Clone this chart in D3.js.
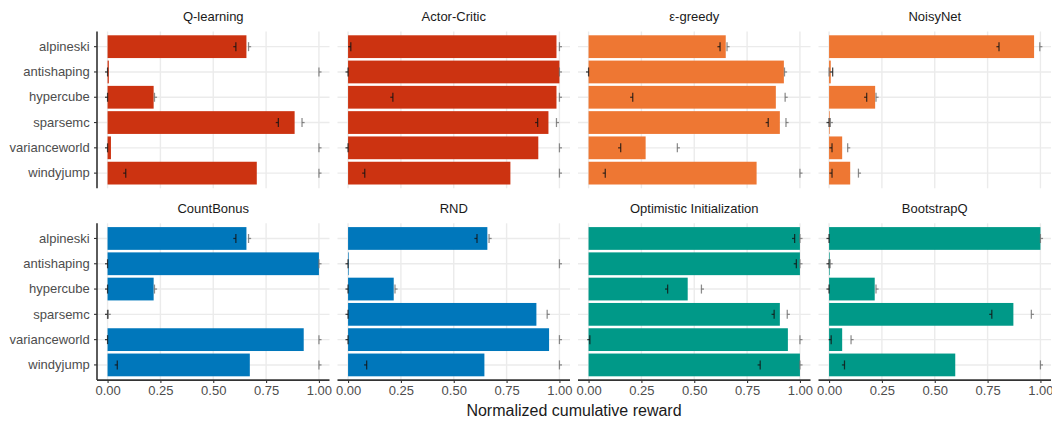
<!DOCTYPE html>
<html>
<head>
<meta charset="utf-8">
<script src="https://cdn.jsdelivr.net/npm/d3@7"></script>
<style>
  html, body { margin: 0; padding: 0; background: #ffffff; }
  svg { display: block; font-family: "Liberation Sans", Arial, Helvetica, sans-serif; }
</style>
</head>
<body>
<svg id="chart" width="1052" height="421"></svg>
<script>
// Environments (rows) and agents (facets)
const environments = ["alpineski", "antishaping", "hypercube", "sparsemc", "varianceworld", "windyjump"];
const agents = ["Q-learning", "Actor-Critic", "ε-greedy", "NoisyNet",
                "CountBonus", "RND", "Optimistic Initialization", "BootstrapQ"];
const xTicks = [0, 0.25, 0.5, 0.75, 1];

// Normalized cumulative reward per agent (bar), plus low / high markers
const qLearningReward   = [0.657, 0.006, 0.218, 0.885, 0.016, 0.706];
const qLearningLow      = [0.607, 0.000, 0.000, 0.808, 0.000, 0.086];
const qLearningHigh     = [0.667, 1.000, 0.222, 0.920, 1.000, 1.000];

const actorCriticReward = [0.986, 1.000, 0.986, 0.948, 0.900, 0.768];
const actorCriticLow    = [0.013, 0.000, 0.212, 0.897, 0.000, 0.079];
const actorCriticHigh   = [1.000, 1.000, 1.000, 0.986, 1.000, 1.000];

const epsGreedyReward   = [0.649, 0.924, 0.886, 0.905, 0.270, 0.795];
const epsGreedyLow      = [0.622, 0.000, 0.209, 0.850, 0.152, 0.079];
const epsGreedyHigh     = [0.655, 0.927, 0.930, 0.934, 0.420, 1.000];

const noisyNetReward    = [0.970, 0.008, 0.218, 0.003, 0.062, 0.100];
const noisyNetLow       = [0.804, 0.017, 0.178, 0.000, 0.014, 0.014];
const noisyNetHigh      = [0.997, 0.000, 0.222, 0.006, 0.088, 0.139];

const countBonusReward  = [0.657, 1.000, 0.218, 0.000, 0.928, 0.673];
const countBonusLow     = [0.607, 0.000, 0.000, 0.000, 0.000, 0.046];
const countBonusHigh    = [0.667, 1.000, 0.222, 0.003, 1.000, 1.000];

const rndReward         = [0.659, 0.003, 0.216, 0.891, 0.951, 0.645];
const rndLow            = [0.610, 0.000, 0.000, 0.000, 0.000, 0.088];
const rndHigh           = [0.667, 1.000, 0.222, 0.942, 1.000, 1.000];

const optimisticReward  = [1.000, 1.000, 0.469, 0.905, 0.943, 1.000];
const optimisticLow     = [0.975, 0.983, 0.374, 0.878, 0.006, 0.812];
const optimisticHigh    = [1.000, 1.000, 0.534, 0.940, 1.000, 1.000];

const bootstrapQReward  = [1.000, 0.003, 0.216, 0.872, 0.062, 0.597];
const bootstrapQLow     = [0.000, 0.000, 0.000, 0.770, 0.010, 0.073];
const bootstrapQHigh    = [1.000, 0.005, 0.222, 0.957, 0.104, 1.000];

// Table of facets built from the arrays above
const facets = [
  [qLearningReward,   qLearningLow,   qLearningHigh],
  [actorCriticReward, actorCriticLow, actorCriticHigh],
  [epsGreedyReward,   epsGreedyLow,   epsGreedyHigh],
  [noisyNetReward,    noisyNetLow,    noisyNetHigh],
  [countBonusReward,  countBonusLow,  countBonusHigh],
  [rndReward,         rndLow,         rndHigh],
  [optimisticReward,  optimisticLow,  optimisticHigh],
  [bootstrapQReward,  bootstrapQLow,  bootstrapQHigh]
].map(([reward, low, high], i) => ({
  agent: agents[i],
  rows: environments.map((env, j) => ({ env, reward: reward[j], low: low[j], high: high[j] }))
}));

// Agent family colours
const fill = d3.scaleOrdinal()
  .domain(agents)
  .range(["#CC3311", "#CC3311", "#EE7733", "#EE7733", "#0077BB", "#0077BB", "#009988", "#009988"]);

// Layout
const svg = d3.select("#chart");
const nCols = 4;
const panelLeft0 = 97, colStep = 240.5, panelW = 232.5;
const rowTops = [31.5, 223.3], panelH = 156.8;
const gridColor = "#ebebeb";
const axisColor = "#333333";
const textGrey = "#4d4d4d";
const labelSize = "13px";

facets.forEach((facet, i) => {
  const col = i % nCols, row = Math.floor(i / nCols);
  const left = panelLeft0 + col * colStep;
  const top = rowTops[row];

  const x = d3.scaleLinear().domain([-0.05, 1.05]).range([left, left + panelW]);
  const y = d3.scaleBand().domain(environments).range([top, top + panelH])
    .paddingInner(0.1).paddingOuter(0.15);

  const g = svg.append("g");

  // grid
  g.selectAll("line.vgrid").data(xTicks).join("line")
    .attr("x1", d => x(d)).attr("x2", d => x(d))
    .attr("y1", top).attr("y2", top + panelH)
    .attr("stroke", gridColor).attr("stroke-width", 1.4);
  g.selectAll("line.hgrid").data(environments).join("line")
    .attr("x1", left).attr("x2", left + panelW)
    .attr("y1", d => y(d) + y.bandwidth() / 2).attr("y2", d => y(d) + y.bandwidth() / 2)
    .attr("stroke", gridColor).attr("stroke-width", 1.4);

  // bars
  g.selectAll("rect.bar").data(facet.rows).join("rect")
    .attr("x", x(0))
    .attr("y", d => y(d.env))
    .attr("width", d => Math.max(0, x(d.reward) - x(0)))
    .attr("height", y.bandwidth())
    .attr("fill", fill(facet.agent));

  // low marker: vertical tick with a short stub to the left
  const half = 4.5, stub = 2.6;
  const low = g.selectAll("g.low").data(facet.rows).join("g")
    .attr("transform", d => `translate(${x(d.low)},${y(d.env) + y.bandwidth() / 2})`)
    .attr("stroke", "rgba(20,20,20,0.8)").attr("stroke-width", 1.25);
  low.append("line").attr("x1", 0).attr("x2", 0).attr("y1", -half).attr("y2", half);
  low.append("line").attr("x1", -stub).attr("x2", 0).attr("y1", 0).attr("y2", 0);

  // high marker: vertical tick with a short stub to the right
  const high = g.selectAll("g.high").data(facet.rows).join("g")
    .attr("transform", d => `translate(${x(d.high)},${y(d.env) + y.bandwidth() / 2})`)
    .attr("stroke", "rgba(110,110,110,0.8)").attr("stroke-width", 1.25);
  high.append("line").attr("x1", 0).attr("x2", 0).attr("y1", -half).attr("y2", half);
  high.append("line").attr("x1", 0).attr("x2", stub).attr("y1", 0).attr("y2", 0);

  // strip title
  svg.append("text")
    .attr("x", left + panelW / 2)
    .attr("y", top - 10.5)
    .attr("text-anchor", "middle")
    .attr("font-size", labelSize)
    .attr("fill", "#1a1a1a")
    .text(facet.agent);

  // left axis on first column
  if (col === 0) {
    const ax = svg.append("g")
      .attr("transform", `translate(${left},0)`)
      .call(d3.axisLeft(y).tickSizeInner(3).tickSizeOuter(0).tickPadding(4.3));
    ax.select(".domain").remove();
    ax.selectAll(".tick line").attr("stroke", axisColor).attr("stroke-width", 1.1);
    ax.selectAll(".tick text").attr("fill", textGrey).attr("font-size", labelSize)
      .attr("font-family", "Liberation Sans, Arial, sans-serif");
    svg.append("line")
      .attr("x1", left).attr("x2", left)
      .attr("y1", top).attr("y2", top + panelH)
      .attr("stroke", axisColor).attr("stroke-width", 1.6);
  }

  // bottom axis on last row
  if (row === 1) {
    const bx = svg.append("g")
      .attr("transform", `translate(0,${top + panelH})`)
      .call(d3.axisBottom(x).tickValues(xTicks).tickFormat(d3.format(".2f"))
        .tickSizeInner(3).tickSizeOuter(0).tickPadding(2.8));
    bx.select(".domain").remove();
    bx.selectAll(".tick line").attr("stroke", axisColor).attr("stroke-width", 1.1);
    bx.selectAll(".tick text").attr("fill", textGrey).attr("font-size", labelSize)
      .attr("font-family", "Liberation Sans, Arial, sans-serif");
    svg.append("line")
      .attr("x1", left).attr("x2", left + panelW)
      .attr("y1", top + panelH).attr("y2", top + panelH)
      .attr("stroke", axisColor).attr("stroke-width", 1.6);
  }
});

// x-axis title
svg.append("text")
  .attr("x", panelLeft0 + ((nCols - 1) * colStep + panelW) / 2)
  .attr("y", 416)
  .attr("text-anchor", "middle")
  .attr("font-size", "16px")
  .attr("fill", "#1a1a1a")
  .text("Normalized cumulative reward");
</script>
</body>
</html>
